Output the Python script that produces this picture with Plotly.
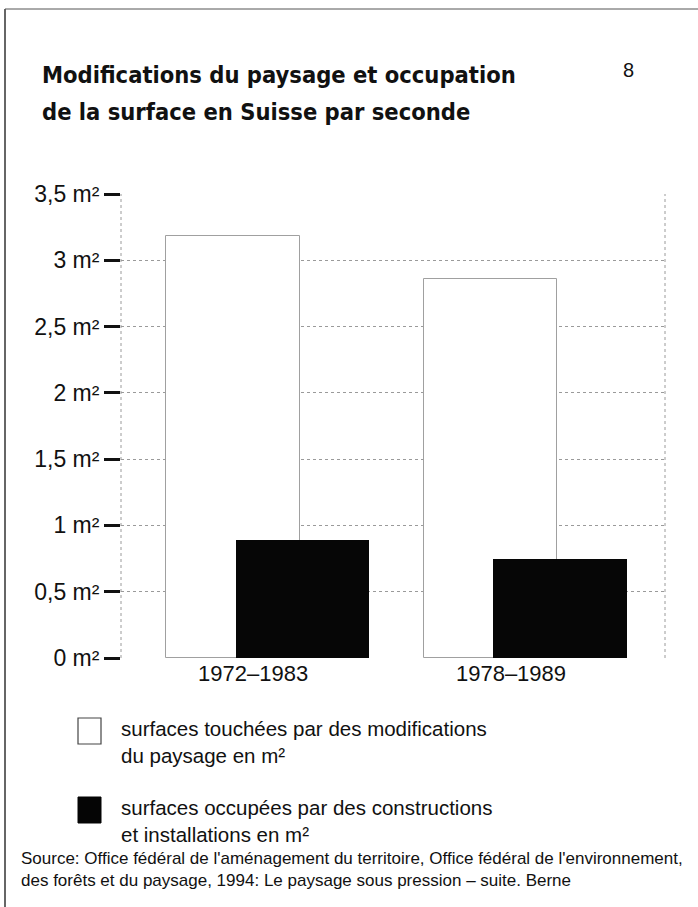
import plotly.graph_objects as go

# ---- data ----
periods = ["1972–1983", "1978–1989"]
surfaces_modifiees = [3.18, 2.86]      # surfaces touchées par des modifications du paysage (m²/s)
surfaces_construites = [0.89, 0.75]    # surfaces occupées par des constructions et installations (m²/s)
y_tick_vals = [0, 0.5, 1, 1.5, 2, 2.5, 3, 3.5]
y_tick_text = ["0 m²", "0,5 m²", "1 m²", "1,5 m²", "2 m²", "2,5 m²", "3 m²", "3,5 m²"]
legend_labels = ["surfaces touchées par des modifications<br>du paysage en m²",
                 "surfaces occupées par des constructions<br>et installations en m²"]
title_lines = ["Modifications du paysage et occupation",
               "de la surface en Suisse par seconde"]
page_number = "8"
source_text = ("Source: Office fédéral de l'aménagement du territoire, Office fédéral de l'environnement,<br>"
               "des forêts et du paysage, 1994: Le paysage sous pression – suite. Berne")

W, H = 698, 907
L, R, T, B = 121, 665, 194, 658

def px(x):
    return (x - L) / (R - L)

def py(y):
    return (B - y) / (B - T)

REG = "Liberation Sans, Arial, sans-serif"
COND = "DejaVu Sans Condensed, Liberation Sans, sans-serif"

xpos = list(range(len(periods)))

fig = go.Figure()
fig.add_trace(go.Bar(
    x=xpos, y=surfaces_modifiees, width=0.517, offset=-0.337,
    marker=dict(color="white", line=dict(color="#a0a0a0", width=1)),
    showlegend=False, hoverinfo="skip"))
fig.add_trace(go.Bar(
    x=xpos, y=surfaces_construites, width=0.519, offset=-0.068,
    marker=dict(color="#060606", line=dict(color="#060606", width=0)),
    showlegend=False, hoverinfo="skip"))

shapes = []
# dotted plot borders (left/right)
for xx in (0, 1):
    shapes.append(dict(type="line", xref="paper", yref="paper", x0=xx, x1=xx, y0=0, y1=1,
                       line=dict(color="#9a9a9a", width=1, dash="dot"), layer="below"))
# page frame (left and top)
shapes.append(dict(type="line", xref="paper", yref="paper", x0=px(5), x1=px(5), y0=py(9), y1=py(907),
                   line=dict(color="#333", width=1.5)))
shapes.append(dict(type="line", xref="paper", yref="paper", x0=px(5), x1=px(698), y0=py(9), y1=py(9),
                   line=dict(color="#555", width=1)))
# legend swatches
shapes.append(dict(type="rect", xref="paper", yref="paper", x0=px(78), x1=px(101), y0=py(744), y1=py(718),
                   line=dict(color="#444", width=1.2), fillcolor="white"))
shapes.append(dict(type="rect", xref="paper", yref="paper", x0=px(78), x1=px(101), y0=py(823), y1=py(797),
                   line=dict(color="#050505", width=1), fillcolor="#050505"))

annotations = [
    dict(text="<b>" + title_lines[0] + "</b>", x=px(40), y=py(75), xref="paper", yref="paper",
         xanchor="left", yanchor="middle", showarrow=False, font=dict(family=COND, size=23.5, color="#111")),
    dict(text="<b>" + title_lines[1] + "</b>", x=px(40), y=py(112), xref="paper", yref="paper",
         xanchor="left", yanchor="middle", showarrow=False, font=dict(family=COND, size=23.5, color="#111")),
    dict(text=page_number, x=px(628), y=py(70), xref="paper", yref="paper",
         xanchor="center", yanchor="middle", showarrow=False, font=dict(family=REG, size=20, color="#111")),
    dict(text=legend_labels[0], x=px(119), y=py(742), xref="paper", yref="paper", align="left",
         xanchor="left", yanchor="middle", showarrow=False, font=dict(family=REG, size=20.5, color="#111")),
    dict(text=legend_labels[1], x=px(119), y=py(821), xref="paper", yref="paper", align="left",
         xanchor="left", yanchor="middle", showarrow=False, font=dict(family=REG, size=20.5, color="#111")),
    dict(text=source_text, x=px(19), y=py(869), xref="paper", yref="paper", align="left",
         xanchor="left", yanchor="middle", showarrow=False, font=dict(family=REG, size=17, color="#111")),
]

fig.update_layout(
    width=W, height=H,
    margin=dict(l=L, r=W - R, t=T, b=H - B, pad=0),
    paper_bgcolor="white", plot_bgcolor="white",
    barmode="overlay", bargap=0,
    shapes=shapes, annotations=annotations,
    showlegend=False,
)
fig.update_xaxes(range=[-0.512, 1.597], tickvals=xpos, ticktext=periods,
                 showgrid=False, zeroline=False, showline=False, ticks="",
                 tickfont=dict(family=REG, size=22, color="#111"), fixedrange=True)
fig.update_yaxes(range=[0, 3.5], tickvals=y_tick_vals, ticktext=y_tick_text,
                 showgrid=True, gridcolor="#9a9a9a", gridwidth=1, griddash="dot",
                 zeroline=False, showline=False,
                 ticks="outside", ticklen=16, tickwidth=2.5, tickcolor="#111",
                 tickfont=dict(family=REG, size=23, color="#111"), fixedrange=True)

fig.write_html("out.html", config={"displayModeBar": False},
               post_script="document.body.style.margin='0';document.body.style.overflow='hidden';")
